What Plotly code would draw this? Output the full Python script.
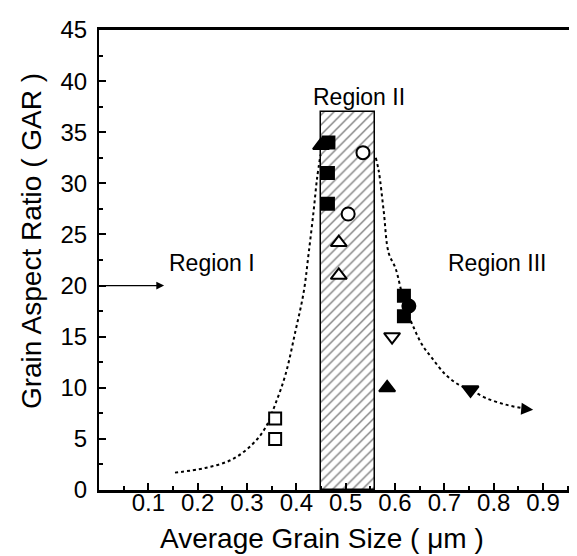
import plotly.graph_objects as go

# ---- data ----
x_ticks = [0.1, 0.2, 0.3, 0.4, 0.5, 0.6, 0.7, 0.8, 0.9]
x_tick_text = ["0.1", "0.2", "0.3", "0.4", "0.5", "0.6", "0.7", "0.8", "0.9"]
y_ticks = [0, 5, 10, 15, 20, 25, 30, 35, 40, 45]
y_tick_text = ["0", "5", "10", "15", "20", "25", "30", "35", "40", "45"]

region2_center = [0.505]
region2_height = [37]
region2_width = [0.11]

open_sq_x = [0.357, 0.357]
open_sq_y = [7, 5]
fill_tri_up_x = [0.45, 0.584]
fill_tri_up_y = [33.7, 10]
fill_sq_x = [0.465, 0.464, 0.464, 0.618, 0.618]
fill_sq_y = [34, 31, 28, 19, 17]
open_circ_x = [0.535, 0.505]
open_circ_y = [33, 27]
open_tri_up_x = [0.486, 0.486]
open_tri_up_y = [24.2, 21]
fill_circ_x = [0.628]
fill_circ_y = [18]
open_tri_dn_x = [0.594]
open_tri_dn_y = [15]
fill_tri_dn_x = [0.753]
fill_tri_dn_y = [9.8]

left_curve_x = [0.154, 0.215, 0.269, 0.310, 0.337, 0.357, 0.378, 0.398, 0.415, 0.425, 0.435, 0.442, 0.449]
left_curve_y = [1.7, 2.15, 2.97, 4.43, 6.07, 8.35, 11.3, 15.5, 19.4, 23.2, 27.3, 30.5, 32.8]
right_curve_x = [0.561, 0.567, 0.577, 0.587, 0.601, 0.611, 0.620, 0.635, 0.655, 0.675, 0.702, 0.729, 0.753, 0.784, 0.824, 0.858, 0.868]
right_curve_y = [32.5, 31.2, 27.3, 23.2, 21.7, 19.8, 18.0, 16.2, 14.2, 12.9, 11.3, 10.3, 9.8, 9.0, 8.35, 8.0, 7.92]

region_labels = ["Region I", "Region II", "Region III"]
region_label_x = [0.2285, 0.527, 0.807]
region_label_y = [22.2, 38.4, 22.2]

x_title = "Average Grain Size ( μm )"
y_title = "Grain Aspect Ratio ( GAR )"

FONT = "Liberation Sans, Arial, sans-serif"

fig = go.Figure()

fig.add_trace(go.Bar(
    x=region2_center, y=region2_height, width=region2_width,
    marker=dict(color="white", line=dict(color="black", width=1.5),
                pattern=dict(shape="/", fgcolor="black", bgcolor="white", size=7, solidity=0.2)),
    showlegend=False, hoverinfo="skip"))

for cx, cy in [(left_curve_x, left_curve_y), (right_curve_x, right_curve_y)]:
    fig.add_trace(go.Scatter(x=cx, y=cy, mode="lines",
                             line=dict(color="black", width=2, dash="dot", shape="spline"),
                             showlegend=False, hoverinfo="skip"))

def add_markers(xs, ys, symbol, filled, size):
    fig.add_trace(go.Scatter(
        x=xs, y=ys, mode="markers", showlegend=False,
        marker=dict(symbol=symbol, size=size,
                    color="black" if filled else "white",
                    line=dict(color="black", width=2))))

add_markers(open_sq_x, open_sq_y, "square", False, 12)
add_markers(fill_tri_up_x, fill_tri_up_y, "triangle-up", True, 14)
add_markers(fill_sq_x, fill_sq_y, "square", True, 12)
add_markers(open_circ_x, open_circ_y, "circle", False, 13)
add_markers(open_tri_up_x, open_tri_up_y, "triangle-up", False, 14)
add_markers(fill_circ_x, fill_circ_y, "circle", True, 13)
add_markers(open_tri_dn_x, open_tri_dn_y, "triangle-down", False, 14)
add_markers(fill_tri_dn_x, fill_tri_dn_y, "triangle-down", True, 14)

# arrow at end of right curve
fig.add_annotation(x=0.88, y=7.85, ax=0.855, ay=7.95, xref="x", yref="y", axref="x", ayref="y",
                   text="", showarrow=True, arrowhead=2, arrowsize=1.6, arrowwidth=1.5, arrowcolor="black")
# Region I arrow
fig.add_annotation(x=0.132, y=20, ax=0.004, ay=20, xref="x", yref="y", axref="x", ayref="y",
                   text="", showarrow=True, arrowhead=2, arrowsize=1.3, arrowwidth=1.2, arrowcolor="black")

for txt, tx, ty in zip(region_labels, region_label_x, region_label_y):
    fig.add_annotation(x=tx, y=ty, xref="x", yref="y", text=txt, showarrow=False,
                       font=dict(family=FONT, size=23, color="black"))

# axis titles
fig.add_annotation(x=0.459, y=-0.1065, xref="paper", yref="paper", text=x_title, showarrow=False,
                   xanchor="center", yanchor="middle", font=dict(family=FONT, size=28, color="black"))
fig.add_annotation(x=-0.14, y=0.541, xref="paper", yref="paper", text=y_title, showarrow=False,
                   textangle=-90, xanchor="center", yanchor="middle",
                   font=dict(family=FONT, size=28, color="black"))

fig.update_layout(
    width=577, height=556,
    margin=dict(l=91, r=0, t=22, b=74),
    paper_bgcolor="white", plot_bgcolor="white",
    font=dict(family=FONT, color="black"),
    bargap=0,
    xaxis=dict(range=[0, 0.985], tickmode="array", tickvals=x_ticks, ticktext=x_tick_text,
               ticks="inside", ticklen=7, tickwidth=1.5, tickcolor="black",
               minor=dict(ticks="inside", ticklen=4, tickwidth=1.5, tickcolor="black", tick0=0.05, dtick=0.1),
               showline=True, linewidth=2.5, linecolor="black", mirror=True,
               showgrid=False, zeroline=False, ticklabelstandoff=-11,
               tickfont=dict(family=FONT, size=24, color="black")),
    yaxis=dict(range=[0, 45], tickmode="array", tickvals=y_ticks, ticktext=y_tick_text,
               ticks="inside", ticklen=7, tickwidth=1.5, tickcolor="black",
               minor=dict(ticks="inside", ticklen=4, tickwidth=1.5, tickcolor="black", tick0=2.5, dtick=5),
               showline=True, linewidth=2, linecolor="black",
               showgrid=False, zeroline=False, ticklabelstandoff=5,
               tickfont=dict(family=FONT, size=24, color="black")),
)

fig.write_html("out.html")
